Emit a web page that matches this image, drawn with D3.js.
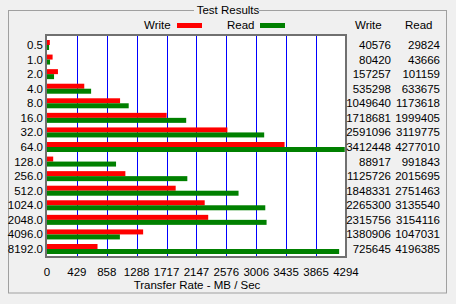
<!DOCTYPE html>
<html><head><meta charset="utf-8">
<script src="https://cdn.jsdelivr.net/npm/d3@7"></script>
<style>
html,body{margin:0;padding:0;background:#f0f0f0;}
svg{display:block;font-family:"Liberation Sans",Arial,sans-serif;font-size:11.5px;}
</style></head><body>
<svg id="c" width="456" height="304"></svg>
<script>
const cats = ["0.5","1.0","2.0","4.0","8.0","16.0","32.0","64.0","128.0","256.0","512.0","1024.0","2048.0","4096.0","8192.0"];
const writeVals = [40576,80420,157257,535298,1049640,1718681,2591096,3412448,88917,1125726,1848331,2265300,2315756,1380906,725645];
const readVals  = [29824,43666,101159,633675,1173618,1999405,3119775,4277010,991843,2015695,2751463,3135540,3154116,1047031,4196385];
const tickLabels = ["0","429","858","1288","1717","2147","2576","3006","3435","3865","4294"];
const axisMax = 4294.967;

const svg = d3.select("#c");
const bg = "#f0f0f0";

// group box
svg.append("rect").attr("x",8.5).attr("y",10.5).attr("width",438).attr("height",282.5)
  .attr("fill","none").attr("stroke","#a0a0a0");
svg.append("rect").attr("x",194).attr("y",5).attr("width",65).attr("height",10).attr("fill",bg);
svg.append("text").attr("x",228).attr("y",14).attr("text-anchor","middle").attr("fill","#000").text("Test Results");

const x = d3.scaleLinear().domain([0, axisMax]).range([47, 346]);
const y = d3.scalePoint().domain(cats).range([45, 249]);

// plot background
svg.append("rect").attr("x",46).attr("y",35).attr("width",300).attr("height",222).attr("fill","#fff");

// gridlines
const tickVals = tickLabels.map(Number);
svg.append("g").selectAll("line").data(tickVals.slice(1, -1)).join("line")
  .attr("x1", d => Math.round(x(d)) + 0.5).attr("x2", d => Math.round(x(d)) + 0.5)
  .attr("y1", 36).attr("y2", 256).attr("stroke", "#0000ff").attr("stroke-width", 1);

// bars
const rows = cats.map((c,i) => ({c, w: writeVals[i], r: readVals[i]}));
svg.append("g").selectAll("rect").data(rows).join("rect")
  .attr("x", x(0)).attr("y", d => y(d.c) - 5)
  .attr("width", d => x(d.w/1000) - x(0)).attr("height", 5).attr("fill", "#ff0000");
svg.append("g").selectAll("rect").data(rows).join("rect")
  .attr("x", x(0)).attr("y", d => y(d.c))
  .attr("width", d => x(d.r/1000) - x(0)).attr("height", 5).attr("fill", "#008000");

// plot border
svg.append("rect").attr("x",46).attr("y",35).attr("width",300).attr("height",222)
  .attr("fill","none").attr("stroke","#707070").attr("stroke-width",2);

// category labels
svg.append("g").selectAll("text").data(cats).join("text")
  .attr("x", 43).attr("y", d => y(d)).attr("dy","0.35em").attr("text-anchor","end").text(d => d);

// x tick labels
svg.append("g").selectAll("text").data(tickLabels).join("text")
  .attr("x", d => x(+d)).attr("y", 272).attr("dy","0.35em").attr("text-anchor","middle").text(d => d);
svg.append("text").attr("x",197).attr("y",285).attr("dy","0.35em").attr("text-anchor","middle").text("Transfer Rate - MB / Sec");

// legend
svg.append("text").attr("x",144).attr("y",25).attr("dy","0.35em").text("Write");
svg.append("rect").attr("x",177).attr("y",23).attr("width",25).attr("height",5).attr("fill","#ff0000");
svg.append("text").attr("x",227).attr("y",25).attr("dy","0.35em").text("Read");
svg.append("rect").attr("x",260).attr("y",23).attr("width",25).attr("height",5).attr("fill","#008000");

// value columns
svg.append("text").attr("x",355).attr("y",25).attr("dy","0.35em").text("Write");
svg.append("text").attr("x",405).attr("y",25).attr("dy","0.35em").text("Read");
svg.append("g").selectAll("text").data(rows).join("text")
  .attr("x",391).attr("y", d => y(d.c)).attr("dy","0.35em").attr("text-anchor","end").text(d => d.w);
svg.append("g").selectAll("text").data(rows).join("text")
  .attr("x",440).attr("y", d => y(d.c)).attr("dy","0.35em").attr("text-anchor","end").text(d => d.r);
</script>
</body></html>
